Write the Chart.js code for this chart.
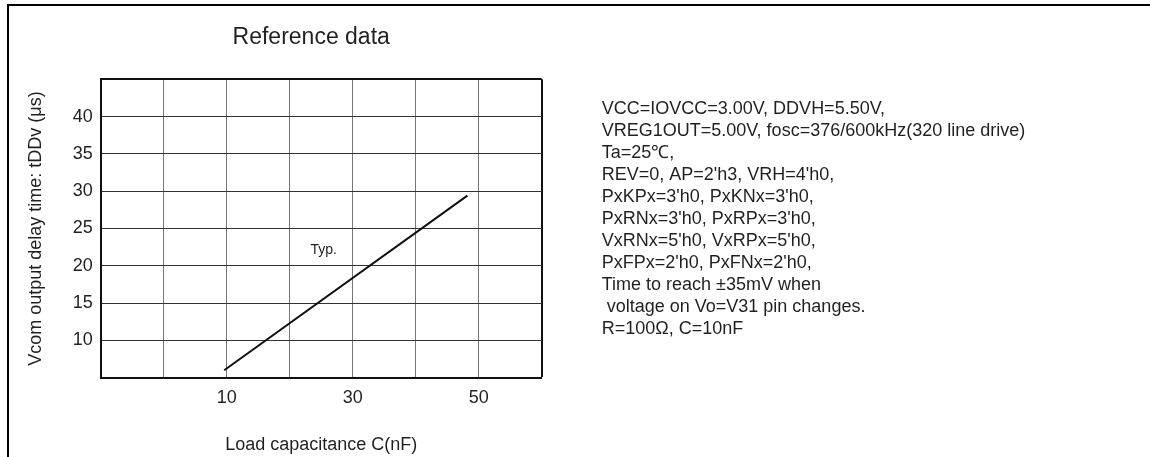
<!DOCTYPE html>
<html><head><meta charset="utf-8">
<script src="https://cdn.jsdelivr.net/npm/chart.js@4/dist/chart.umd.min.js"></script>
<style>html,body{margin:0;padding:0;background:#fff;overflow:hidden;} canvas{display:block;}</style>
</head><body>
<canvas id="c" width="1150" height="457"></canvas>
<script>
const titleText = 'Reference data';
const xAxisTitle = 'Load capacitance C(nF)';
const yAxisTitle = 'Vcom output delay time: tDDv (\u03BCs)';
const xRange = [-10, 60];
const yRange = [5, 45];
const xStep = 10;
const yStep = 5;
const xTickLabels = [10, 30, 50];
const yTickLabels = [10, 15, 20, 25, 30, 35, 40];
const capacitance = [9.6, 48.2];
const delayTime = [6.0, 29.4];
const seriesLabel = 'Typ.';
const seriesLabelAt = [25.4, 22.1];
const notes = [
  'VCC=IOVCC=3.00V, DDVH=5.50V,',
  'VREG1OUT=5.00V, fosc=376/600kHz(320 line drive)',
  'Ta=25\u2103,',
  'REV=0, AP=2\'h3, VRH=4\'h0,',
  'PxKPx=3\'h0, PxKNx=3\'h0,',
  'PxRNx=3\'h0, PxRPx=3\'h0,',
  'VxRNx=5\'h0, VxRPx=5\'h0,',
  'PxFPx=2\'h0, PxFNx=2\'h0,',
  'Time to reach \u00B135mV when',
  ' voltage on Vo=V31 pin changes.',
  'R=100\u03A9, C=10nF'
];

const FONT = "'Liberation Sans', Arial, Helvetica, sans-serif";
const TXT = '#231f20';
Chart.defaults.font.family = FONT;
Chart.defaults.color = TXT;

const points = capacitance.map((x, i) => ({x: x, y: delayTime[i]}));

const decor = {
  id: 'decor',
  beforeDraw(chart) {
    const ctx = chart.ctx;
    ctx.save();
    ctx.fillStyle = '#fff';
    ctx.fillRect(0, 0, chart.width, chart.height);
    ctx.restore();
  },
  afterDraw(chart) {
    const ctx = chart.ctx;
    const a = chart.chartArea;
    ctx.save();
    // frame
    ctx.fillStyle = '#000';
    ctx.fillRect(7, 4, chart.width - 7, 2);
    ctx.fillRect(7, 4, 2, chart.height - 4);
    // title
    ctx.fillStyle = TXT;
    ctx.font = '23px ' + FONT;
    ctx.textAlign = 'center';
    ctx.textBaseline = 'alphabetic';
    ctx.fillText(titleText, (a.left + a.right) / 2 - 10, 43.5);
    // notes
    ctx.font = '18px ' + FONT;
    ctx.textAlign = 'left';
    ctx.textBaseline = 'middle';
    notes.forEach((t, i) => ctx.fillText(t, a.right + 60, 109.5 + i * 22));
    // series label
    ctx.font = '14px ' + FONT;
    ctx.textAlign = 'center';
    ctx.fillText(seriesLabel, chart.scales.x.getPixelForValue(seriesLabelAt[0]), chart.scales.y.getPixelForValue(seriesLabelAt[1]));
    ctx.restore();
  }
};

new Chart(document.getElementById('c'), {
  type: 'scatter',
  data: {
    datasets: [{
      label: seriesLabel,
      data: points,
      showLine: true,
      borderColor: '#111',
      borderWidth: 2,
      pointRadius: 0,
      pointHoverRadius: 0,
      fill: false
    }]
  },
  options: {
    responsive: false,
    devicePixelRatio: 1,
    animation: false,
    events: [],
    layout: { padding: { left: 0, top: 79.3, right: 608.3, bottom: 0 } },
    plugins: { legend: { display: false }, title: { display: false }, tooltip: { enabled: false } },
    scales: {
      x: {
        type: 'linear',
        min: xRange[0], max: xRange[1],
        afterFit: s => { s.height = 79.3; },
        ticks: {
          stepSize: xStep, autoSkip: false, maxRotation: 0, padding: 10,
          font: { size: 18 }, color: TXT,
          callback: v => xTickLabels.includes(v) ? String(v) : ''
        },
        grid: {
          drawTicks: false,
          color: c => (c.tick && c.tick.value === xRange[1]) ? '#111' : '#777',
          lineWidth: c => (c.tick && c.tick.value === xRange[1]) ? 2 : 1
        },
        border: { display: true, color: '#111', width: 2 },
        title: { display: true, text: xAxisTitle, font: { size: 18 }, color: TXT, padding: { top: 0, bottom: 1 } }
      },
      y: {
        type: 'linear',
        min: yRange[0], max: yRange[1],
        afterFit: s => { s.width = 100.7; },
        ticks: {
          stepSize: yStep, autoSkip: false, padding: 8,
          font: { size: 18 }, color: TXT,
          callback: v => yTickLabels.includes(v) ? String(v) : ''
        },
        grid: {
          drawTicks: false,
          color: c => (c.tick && c.tick.value === yRange[1]) ? '#111' : '#333',
          lineWidth: c => (c.tick && c.tick.value === yRange[1]) ? 2 : 1
        },
        border: { display: true, color: '#111', width: 2 },
        title: { display: true, text: yAxisTitle, font: { size: 18 }, color: TXT, padding: { top: 25, bottom: 0 } }
      }
    }
  },
  plugins: [decor]
});
</script>
</body></html>
